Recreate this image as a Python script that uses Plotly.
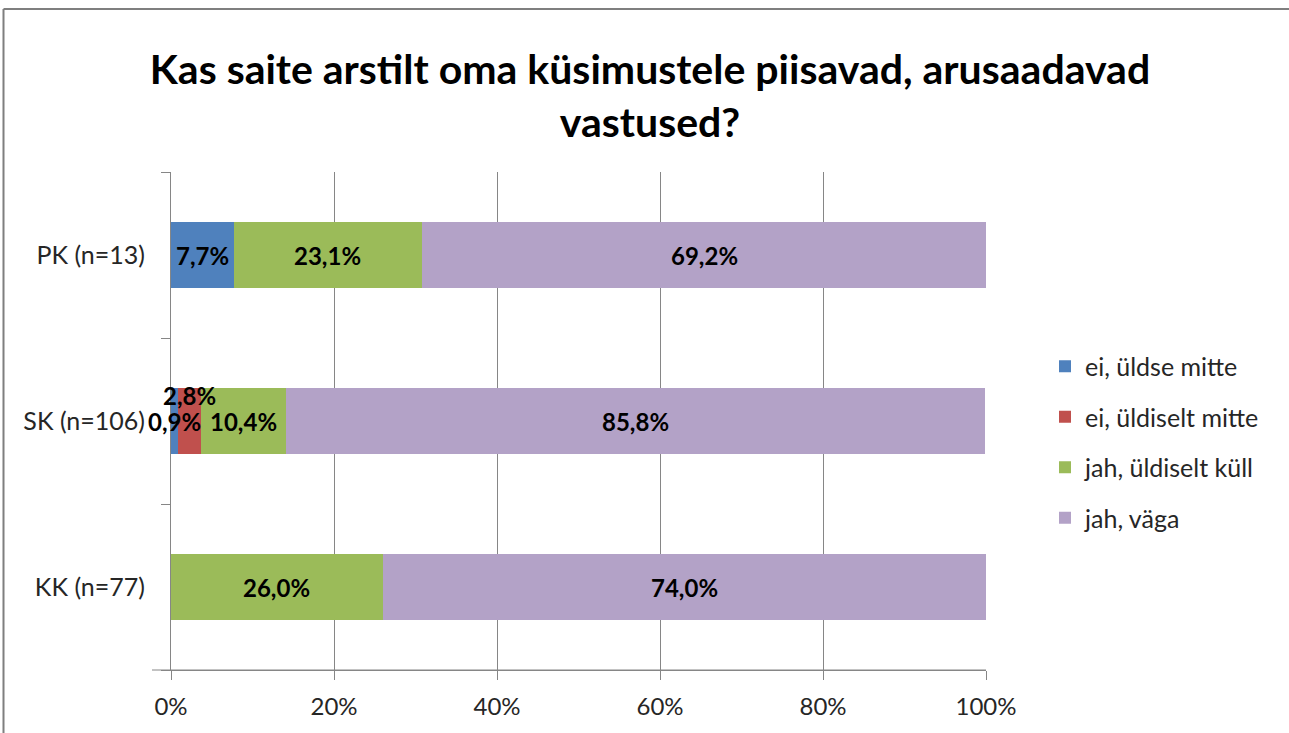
import plotly.graph_objects as go

categories = ["KK (n=77)", "SK (n=106)", "PK (n=13)"]
series_names = ["ei, üldse mitte", "ei, üldiselt mitte", "jah, üldiselt küll", "jah, väga"]
ei_uldse = [0.0, 0.9, 7.7]
ei_uldiselt = [0.0, 2.8, 0.0]
jah_uldiselt = [26.0, 10.4, 23.1]
jah_vaga = [74.0, 85.8, 69.2]
colors = ["#4F81BD", "#C0504D", "#9BBB59", "#B3A2C7"]
x_tickvals = [0, 20, 40, 60, 80, 100]
x_ticktext = ["0%", "20%", "40%", "60%", "80%", "100%"]
title_text = "Kas saite arstilt oma küsimustele piisavad, arusaadavad<br>vastused?"

FONT = "Lato"
series = [ei_uldse, ei_uldiselt, jah_uldiselt, jah_vaga]

fig = go.Figure()
for name, vals, col in zip(series_names, series, colors):
    fig.add_trace(go.Bar(
        y=categories, x=vals, name=name, orientation="h",
        marker=dict(color=col, line=dict(width=0)),
        legendgroup=name, hoverinfo="skip",
    ))

# data labels
annotations = []
for ci, cat in enumerate(categories):
    cum = 0.0
    for si, vals in enumerate(series):
        v = vals[ci]
        if v > 0:
            xc = cum + v / 2
            yshift = 0
            if cat.startswith("SK") and si == 1:
                yshift = 26
            annotations.append(dict(
                x=xc, y=cat, xref="x", yref="y",
                text="<b>" + f"{v:.1f}".replace(".", ",") + "%</b>",
                showarrow=False, yshift=yshift,
                font=dict(family=FONT, size=24, color="black"),
            ))
        cum += v

L, R, T, B = 171, 986, 172, 670
W, H = 1289, 733
pw, ph = R - L, B - T

def px(xp):
    return (xp - L) / pw

def py(yp):
    return (B - yp) / ph

shapes = [
    # outer frame (top and left)
    dict(type="line", xref="paper", yref="paper", x0=px(3.5), x1=px(1289), y0=py(9), y1=py(9),
         line=dict(color="#7f7f7f", width=2)),
    dict(type="line", xref="paper", yref="paper", x0=px(3.5), x1=px(3.5), y0=py(9), y1=py(733),
         line=dict(color="#7f7f7f", width=2)),
    # x axis line extension left of plot
    dict(type="line", xref="paper", yref="paper", x0=px(152), x1=1, y0=0, y1=0,
         line=dict(color="#868686", width=1)),
]

fig.update_layout(
    width=W, height=H,
    barmode="stack", bargap=0.6,
    paper_bgcolor="white", plot_bgcolor="white",
    margin=dict(l=L, r=W - R, t=T, b=H - B, pad=0),
    title=dict(text="<b>" + title_text + "</b>", x=650 / W, xanchor="center",
               y=1 - 84 / H, yanchor="middle",
               font=dict(family=FONT, size=41, color="black")),
    font=dict(family=FONT, size=24, color="#262626"),
    xaxis=dict(range=[0, 100], tickvals=x_tickvals, ticktext=x_ticktext,
               showgrid=True, gridcolor="#868686", gridwidth=1,
               ticks="outside", ticklen=9, tickcolor="#868686",
               showline=True, linecolor="#868686", zeroline=False,
               tickfont=dict(family=FONT, size=24, color="#262626"),
               ticklabelstandoff=6),
    yaxis=dict(tickson="boundaries", ticks="outside", ticklen=9, tickcolor="#868686",
               showline=True, linecolor="#868686", showgrid=False,
               tickfont=dict(family=FONT, size=25, color="#262626"),
               ticklabelstandoff=20),
    legend=dict(x=px(1045), xanchor="left", y=py(442), yanchor="middle",
                traceorder="grouped", tracegroupgap=15,
                font=dict(family=FONT, size=25, color="#262626"),
                itemwidth=30),
    annotations=annotations,
    shapes=shapes,
)

fig.write_html("out.html", config={"displayModeBar": False},
               post_script="document.body.style.margin='0';document.body.style.overflow='hidden';document.documentElement.style.overflow='hidden';")
